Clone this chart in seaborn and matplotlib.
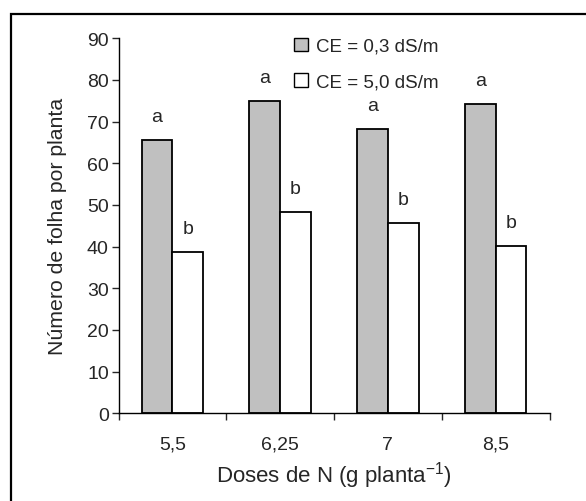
import matplotlib
matplotlib.use("Agg")
import matplotlib.pyplot as plt
import seaborn as sns
import pandas as pd
from matplotlib.patches import Patch, Rectangle

doses = ["5,5", "6,25", "7", "8,5"]
ce_low = [65.7, 75.0, 68.3, 74.2]
ce_high = [38.8, 48.3, 45.7, 40.2]
letters_low = ["a", "a", "a", "a"]
letters_high = ["b", "b", "b", "b"]
series_names = ["CE = 0,3 dS/m", "CE = 5,0 dS/m"]

df = pd.DataFrame({
    "dose": doses * 2,
    "valor": ce_low + ce_high,
    "serie": [series_names[0]] * 4 + [series_names[1]] * 4,
})

sns.set_style("white")
plt.rcParams["font.family"] = ["Liberation Sans", "DejaVu Sans"]
plt.rcParams["mathtext.fontset"] = "custom"
plt.rcParams["mathtext.rm"] = "Liberation Sans"

fig = plt.figure(figsize=(5.86, 5.02), dpi=100)
ax = fig.add_axes([118.5 / 586, 1 - 414.3 / 502, (549.5 - 118.5) / 586, (414.3 - 39.3) / 502])

colors = ["#c0c0c0", "#ffffff"]
sns.barplot(data=df, x="dose", y="valor", hue="serie", order=doses,
            hue_order=series_names, palette=colors, edgecolor="black",
            linewidth=1.3, width=0.57, gap=0, ax=ax, legend=False)

# letters
for cont, labs in zip(ax.containers, [letters_low, letters_high]):
    for bar, lab in zip(cont, labs):
        ax.text(bar.get_x() + bar.get_width() / 2, bar.get_height() + 5.6, lab,
                ha="center", va="center", fontsize=14)

ax.set_ylim(0, 90)
ax.set_xlim(-0.5, 3.5)
ax.set_yticks(range(0, 91, 10))
ax.tick_params(axis="y", direction="out", length=5, width=1, pad=2, labelsize=14, left=True)
ax.set_xticks(range(4))
ax.set_xticklabels(doses)
ax.tick_params(axis="x", which="major", length=0, pad=16, labelsize=14)
ax.set_xticks([-0.5, 0.5, 1.5, 2.5, 3.5], minor=True)
ax.tick_params(axis="x", which="minor", direction="out", length=5, width=1, bottom=True)

for s in ["top", "right"]:
    ax.spines[s].set_visible(False)
for s in ["left", "bottom"]:
    ax.spines[s].set_color("black")
    ax.spines[s].set_linewidth(1)

ax.set_ylabel("Número de folha por planta", fontsize=15.3, labelpad=14)
ax.set_xlabel("Doses de N (g planta$^{-1}$)", fontsize=16, labelpad=5)

handles = [Patch(facecolor=c, edgecolor="black", linewidth=1) for c in colors]
ax.legend(handles, series_names, loc="upper left", bbox_to_anchor=(0.39, 1.022),
          frameon=False, fontsize=13.5, handlelength=0.75, handleheight=0.75,
          handletextpad=0.4, labelspacing=0.95, borderaxespad=0)

# outer frame (partially visible)
fig.patches.append(Rectangle((11 / 586, -0.1), 1.2, (502 - 15) / 502 + 0.1,
                             transform=fig.transFigure, fill=False,
                             edgecolor="black", linewidth=1.6))

fig.savefig("out.png", dpi=100)
